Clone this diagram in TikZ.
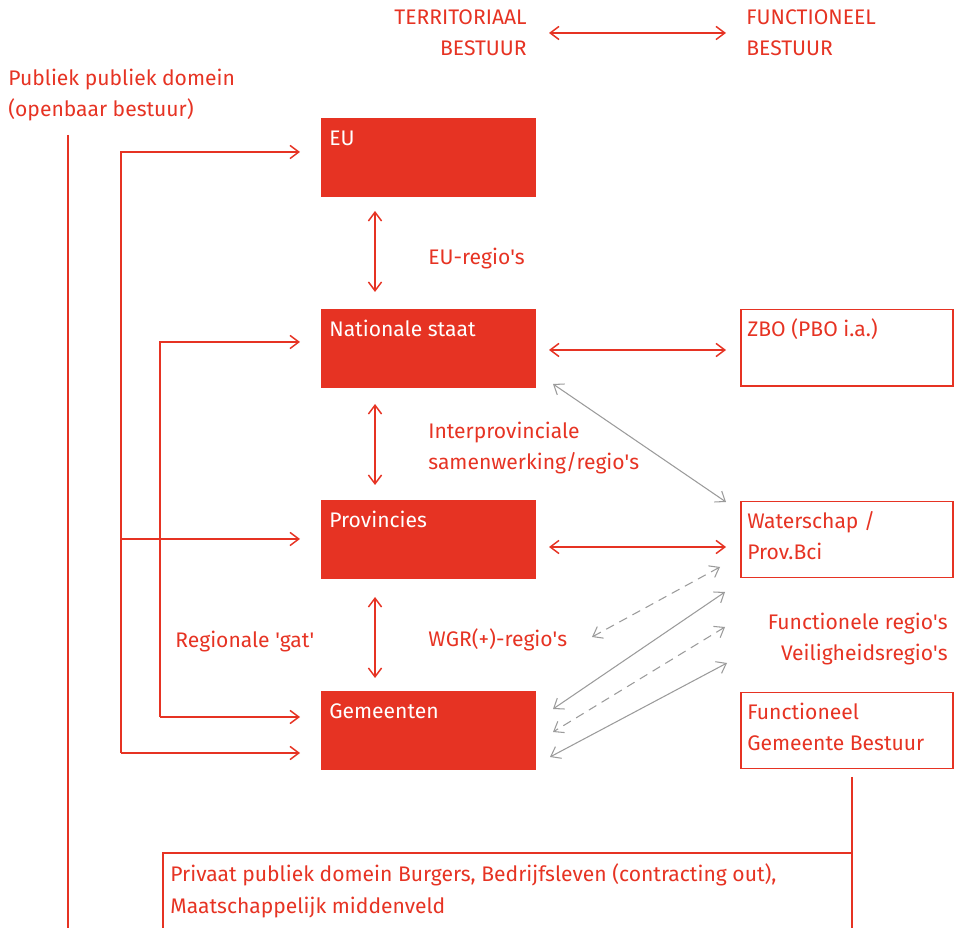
\documentclass[tikz,border=0pt]{standalone}
\usepackage{fontspec}
\setmainfont{Fira Sans}
\usetikzlibrary{arrows.meta}
\definecolor{rood}{RGB}{230,51,35}
\definecolor{grijs}{RGB}{155,155,155}
\newcommand{\aq}{\textquotesingle}

\begin{document}
\begin{tikzpicture}[x=0.02cm, y=-0.02cm,
  >={Straight Barb[length=5pt,width=7.5pt]},
  blok/.style={fill=rood, minimum width=4.3cm, minimum height=1.58cm, inner sep=0},
  kader/.style={draw=rood, line width=0.85pt, minimum width=4.24cm, minimum height=1.53cm, inner sep=0},
  tekst/.style={text=rood, font=\fontsize{12}{18.2}\selectfont, inner sep=0, anchor=base west, align=left},
  wit/.style={tekst, text=white},
  lijn/.style={draw=rood, line width=0.85pt},
  pijl/.style={lijn, <->},
  gpijl/.style={draw=grijs, line width=0.6pt, <->},
  ]

\useasboundingbox (0,0) rectangle (957,928);

\node[blok] (eu)   at (428.5,157.5) {};
\node[blok] (nat)  at (428.5,348.5) {};
\node[blok] (prov) at (428.5,539.5) {};
\node[blok] (gem)  at (428.5,730.5) {};

\node[kader] (zbo) at (847,348) {};
\node[kader] (ws)  at (847,539.5) {};
\node[kader] (fgb) at (847,730.5) {};

% teksten (bij twee regels: basislijn van de laatste regel)
\node[wit] (eut)   at (329,146) {EU};
\node[wit] (natt)  at (329,337) {Nationale staat};
\node[wit] (provt) at (329,528) {Provincies};
\node[wit] (gemt)  at (329,719) {Gemeenten};

\node[tekst] (zbot) at (747,337) {ZBO (PBO i.a.)};
\node[tekst] (wst)  at (747,560) {Waterschap /\\Prov.Bci};
\node[tekst] (fgbt) at (747,751) {Functioneel\\Gemeente Bestuur};

\node[tekst, anchor=base east, align=right] (terr) at (527,56) {TERRITORIAAL\\BESTUUR};
\node[tekst] (func) at (746,56) {FUNCTIONEEL\\BESTUUR};
\node[tekst] (publ) at (8,117) {Publiek publiek domein\\(openbaar bestuur)};
\node[tekst] (euregio) at (428,265) {EU-regio\aq s};
\node[tekst] (interprov) at (428,470) {Interprovinciale\\samenwerking/regio\aq s};
\node[tekst] (wgr) at (428,647) {WGR(+)-regio\aq s};
\node[tekst] (gat) at (175,648) {Regionale \aq gat\aq};
\node[tekst, anchor=base east, align=right] (freg) at (948,661) {Functionele regio\aq s\\Veiligheidsregio\aq s};
\node[tekst] (priv) at (170,913) {Privaat publiek domein Burgers, Bedrijfsleven (contracting out),\\Maatschappelijk middenveld};

% pijlen tussen de blokken
\coordinate (h1) at (549,33);  \coordinate (h2) at (726,33);
\coordinate (v1) at (375,211); \coordinate (v2) at (375,292);
\coordinate (v3) at (375,404); \coordinate (v4) at (375,485);
\coordinate (v5) at (375,597); \coordinate (v6) at (375,678);
\coordinate (r1) at (549,350); \coordinate (r2) at (726,350);
\coordinate (r3) at (549,547); \coordinate (r4) at (726,547);
\draw[pijl] (h1) -- (h2);
\draw[pijl] (v1) -- (v2);
\draw[pijl] (v3) -- (v4);
\draw[pijl] (v5) -- (v6);
\draw[pijl] (r1) -- (r2);
\draw[pijl] (r3) -- (r4);

\coordinate (g1) at (553,384); \coordinate (g2) at (726,502);
\coordinate (g3) at (720,567); \coordinate (g4) at (592,637);
\coordinate (g5) at (725,592); \coordinate (g6) at (553,709);
\coordinate (g7) at (725,627); \coordinate (g8) at (553,732);
\coordinate (g9) at (727,663); \coordinate (g10) at (550,757);
\draw[gpijl] (g1) -- (g2);
\draw[gpijl, dash pattern=on 5pt off 3.5pt] (g3) -- (g4);
\draw[gpijl] (g5) -- (g6);
\draw[gpijl, dash pattern=on 5pt off 3.5pt] (g7) -- (g8);
\draw[gpijl] (g9) -- (g10);

% linker boom
\coordinate (in1) at (300,152);
\coordinate (in2) at (300,342);
\coordinate (in3) at (300,539);
\coordinate (in4) at (300,717);
\coordinate (in5) at (300,753);
\coordinate (b1) at (121,753);
\coordinate (b2) at (160,717);
\draw[lijn, ->] (b1) |- (in1);
\draw[lijn, ->] (b1 |- in3) -- (in3);
\draw[lijn, ->] (b1) -- (in5);
\draw[lijn, ->] (b2) |- (in2);
\draw[lijn, ->] (b2) -- (in4);

\coordinate (p1) at (68,135); \coordinate (p2) at (68,928);
\draw[lijn] (p1) -- (p2);

% privaat domein
\coordinate (q1) at (163,928); \coordinate (q2) at (852,853);
\coordinate (q3) at (852,777); \coordinate (q4) at (852,928);
\draw[lijn] (q1) |- (q2);
\draw[lijn] (q3) -- (q4);
\end{tikzpicture}
\end{document}
